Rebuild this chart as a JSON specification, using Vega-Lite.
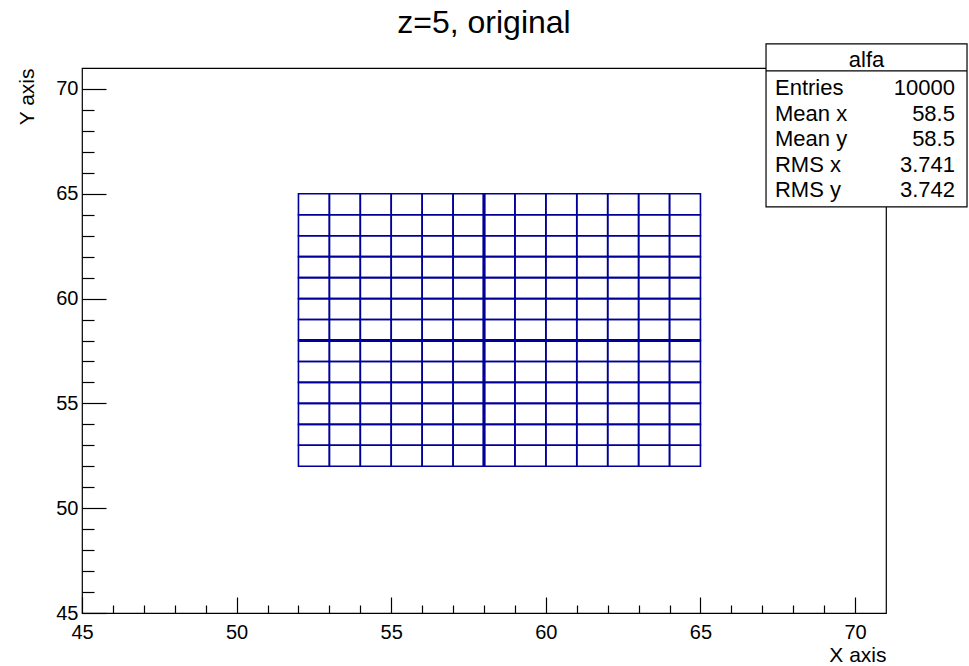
{
  "$schema": "https://vega.github.io/schema/vega-lite/v6.json",
  "autosize": {"type": "none"},
  "padding": {"left": 82, "top": 68, "right": 83, "bottom": 53},
  "width": 804,
  "height": 545,
  "background": "white",
  "title": {"text": "z=5, original", "font": "Liberation Sans", "fontSize": 32, "fontWeight": "normal", "color": "black", "anchor": "middle", "offset": 3},
  "config": {
    "view": {"stroke": "black", "strokeWidth": 1.2},
    "axis": {"domain": false, "grid": false, "labelFlush": false, "labelFont": "Liberation Sans", "labelFontSize": 20, "labelColor": "black", "tickColor": "black", "tickWidth": 1.2, "titleFont": "Liberation Sans", "titleFontSize": 21, "titleFontWeight": "normal", "titleColor": "black"}
  },
  "datasets": {
    "cells": [
      {"xl":52,"xh":53,"yl":52,"yh":53},{"xl":53,"xh":54,"yl":52,"yh":53},{"xl":54,"xh":55,"yl":52,"yh":53},{"xl":55,"xh":56,"yl":52,"yh":53},{"xl":56,"xh":57,"yl":52,"yh":53},{"xl":57,"xh":58,"yl":52,"yh":53},{"xl":58,"xh":59,"yl":52,"yh":53},{"xl":59,"xh":60,"yl":52,"yh":53},{"xl":60,"xh":61,"yl":52,"yh":53},{"xl":61,"xh":62,"yl":52,"yh":53},{"xl":62,"xh":63,"yl":52,"yh":53},{"xl":63,"xh":64,"yl":52,"yh":53},{"xl":64,"xh":65,"yl":52,"yh":53},
      {"xl":52,"xh":53,"yl":53,"yh":54},{"xl":53,"xh":54,"yl":53,"yh":54},{"xl":54,"xh":55,"yl":53,"yh":54},{"xl":55,"xh":56,"yl":53,"yh":54},{"xl":56,"xh":57,"yl":53,"yh":54},{"xl":57,"xh":58,"yl":53,"yh":54},{"xl":58,"xh":59,"yl":53,"yh":54},{"xl":59,"xh":60,"yl":53,"yh":54},{"xl":60,"xh":61,"yl":53,"yh":54},{"xl":61,"xh":62,"yl":53,"yh":54},{"xl":62,"xh":63,"yl":53,"yh":54},{"xl":63,"xh":64,"yl":53,"yh":54},{"xl":64,"xh":65,"yl":53,"yh":54},
      {"xl":52,"xh":53,"yl":54,"yh":55},{"xl":53,"xh":54,"yl":54,"yh":55},{"xl":54,"xh":55,"yl":54,"yh":55},{"xl":55,"xh":56,"yl":54,"yh":55},{"xl":56,"xh":57,"yl":54,"yh":55},{"xl":57,"xh":58,"yl":54,"yh":55},{"xl":58,"xh":59,"yl":54,"yh":55},{"xl":59,"xh":60,"yl":54,"yh":55},{"xl":60,"xh":61,"yl":54,"yh":55},{"xl":61,"xh":62,"yl":54,"yh":55},{"xl":62,"xh":63,"yl":54,"yh":55},{"xl":63,"xh":64,"yl":54,"yh":55},{"xl":64,"xh":65,"yl":54,"yh":55},
      {"xl":52,"xh":53,"yl":55,"yh":56},{"xl":53,"xh":54,"yl":55,"yh":56},{"xl":54,"xh":55,"yl":55,"yh":56},{"xl":55,"xh":56,"yl":55,"yh":56},{"xl":56,"xh":57,"yl":55,"yh":56},{"xl":57,"xh":58,"yl":55,"yh":56},{"xl":58,"xh":59,"yl":55,"yh":56},{"xl":59,"xh":60,"yl":55,"yh":56},{"xl":60,"xh":61,"yl":55,"yh":56},{"xl":61,"xh":62,"yl":55,"yh":56},{"xl":62,"xh":63,"yl":55,"yh":56},{"xl":63,"xh":64,"yl":55,"yh":56},{"xl":64,"xh":65,"yl":55,"yh":56},
      {"xl":52,"xh":53,"yl":56,"yh":57},{"xl":53,"xh":54,"yl":56,"yh":57},{"xl":54,"xh":55,"yl":56,"yh":57},{"xl":55,"xh":56,"yl":56,"yh":57},{"xl":56,"xh":57,"yl":56,"yh":57},{"xl":57,"xh":58,"yl":56,"yh":57},{"xl":58,"xh":59,"yl":56,"yh":57},{"xl":59,"xh":60,"yl":56,"yh":57},{"xl":60,"xh":61,"yl":56,"yh":57},{"xl":61,"xh":62,"yl":56,"yh":57},{"xl":62,"xh":63,"yl":56,"yh":57},{"xl":63,"xh":64,"yl":56,"yh":57},{"xl":64,"xh":65,"yl":56,"yh":57},
      {"xl":52,"xh":53,"yl":57,"yh":58},{"xl":53,"xh":54,"yl":57,"yh":58},{"xl":54,"xh":55,"yl":57,"yh":58},{"xl":55,"xh":56,"yl":57,"yh":58},{"xl":56,"xh":57,"yl":57,"yh":58},{"xl":57,"xh":58,"yl":57,"yh":58},{"xl":58,"xh":59,"yl":57,"yh":58},{"xl":59,"xh":60,"yl":57,"yh":58},{"xl":60,"xh":61,"yl":57,"yh":58},{"xl":61,"xh":62,"yl":57,"yh":58},{"xl":62,"xh":63,"yl":57,"yh":58},{"xl":63,"xh":64,"yl":57,"yh":58},{"xl":64,"xh":65,"yl":57,"yh":58},
      {"xl":52,"xh":53,"yl":58,"yh":59},{"xl":53,"xh":54,"yl":58,"yh":59},{"xl":54,"xh":55,"yl":58,"yh":59},{"xl":55,"xh":56,"yl":58,"yh":59},{"xl":56,"xh":57,"yl":58,"yh":59},{"xl":57,"xh":58,"yl":58,"yh":59},{"xl":58,"xh":59,"yl":58,"yh":59},{"xl":59,"xh":60,"yl":58,"yh":59},{"xl":60,"xh":61,"yl":58,"yh":59},{"xl":61,"xh":62,"yl":58,"yh":59},{"xl":62,"xh":63,"yl":58,"yh":59},{"xl":63,"xh":64,"yl":58,"yh":59},{"xl":64,"xh":65,"yl":58,"yh":59},
      {"xl":52,"xh":53,"yl":59,"yh":60},{"xl":53,"xh":54,"yl":59,"yh":60},{"xl":54,"xh":55,"yl":59,"yh":60},{"xl":55,"xh":56,"yl":59,"yh":60},{"xl":56,"xh":57,"yl":59,"yh":60},{"xl":57,"xh":58,"yl":59,"yh":60},{"xl":58,"xh":59,"yl":59,"yh":60},{"xl":59,"xh":60,"yl":59,"yh":60},{"xl":60,"xh":61,"yl":59,"yh":60},{"xl":61,"xh":62,"yl":59,"yh":60},{"xl":62,"xh":63,"yl":59,"yh":60},{"xl":63,"xh":64,"yl":59,"yh":60},{"xl":64,"xh":65,"yl":59,"yh":60},
      {"xl":52,"xh":53,"yl":60,"yh":61},{"xl":53,"xh":54,"yl":60,"yh":61},{"xl":54,"xh":55,"yl":60,"yh":61},{"xl":55,"xh":56,"yl":60,"yh":61},{"xl":56,"xh":57,"yl":60,"yh":61},{"xl":57,"xh":58,"yl":60,"yh":61},{"xl":58,"xh":59,"yl":60,"yh":61},{"xl":59,"xh":60,"yl":60,"yh":61},{"xl":60,"xh":61,"yl":60,"yh":61},{"xl":61,"xh":62,"yl":60,"yh":61},{"xl":62,"xh":63,"yl":60,"yh":61},{"xl":63,"xh":64,"yl":60,"yh":61},{"xl":64,"xh":65,"yl":60,"yh":61},
      {"xl":52,"xh":53,"yl":61,"yh":62},{"xl":53,"xh":54,"yl":61,"yh":62},{"xl":54,"xh":55,"yl":61,"yh":62},{"xl":55,"xh":56,"yl":61,"yh":62},{"xl":56,"xh":57,"yl":61,"yh":62},{"xl":57,"xh":58,"yl":61,"yh":62},{"xl":58,"xh":59,"yl":61,"yh":62},{"xl":59,"xh":60,"yl":61,"yh":62},{"xl":60,"xh":61,"yl":61,"yh":62},{"xl":61,"xh":62,"yl":61,"yh":62},{"xl":62,"xh":63,"yl":61,"yh":62},{"xl":63,"xh":64,"yl":61,"yh":62},{"xl":64,"xh":65,"yl":61,"yh":62},
      {"xl":52,"xh":53,"yl":62,"yh":63},{"xl":53,"xh":54,"yl":62,"yh":63},{"xl":54,"xh":55,"yl":62,"yh":63},{"xl":55,"xh":56,"yl":62,"yh":63},{"xl":56,"xh":57,"yl":62,"yh":63},{"xl":57,"xh":58,"yl":62,"yh":63},{"xl":58,"xh":59,"yl":62,"yh":63},{"xl":59,"xh":60,"yl":62,"yh":63},{"xl":60,"xh":61,"yl":62,"yh":63},{"xl":61,"xh":62,"yl":62,"yh":63},{"xl":62,"xh":63,"yl":62,"yh":63},{"xl":63,"xh":64,"yl":62,"yh":63},{"xl":64,"xh":65,"yl":62,"yh":63},
      {"xl":52,"xh":53,"yl":63,"yh":64},{"xl":53,"xh":54,"yl":63,"yh":64},{"xl":54,"xh":55,"yl":63,"yh":64},{"xl":55,"xh":56,"yl":63,"yh":64},{"xl":56,"xh":57,"yl":63,"yh":64},{"xl":57,"xh":58,"yl":63,"yh":64},{"xl":58,"xh":59,"yl":63,"yh":64},{"xl":59,"xh":60,"yl":63,"yh":64},{"xl":60,"xh":61,"yl":63,"yh":64},{"xl":61,"xh":62,"yl":63,"yh":64},{"xl":62,"xh":63,"yl":63,"yh":64},{"xl":63,"xh":64,"yl":63,"yh":64},{"xl":64,"xh":65,"yl":63,"yh":64},
      {"xl":52,"xh":53,"yl":64,"yh":65},{"xl":53,"xh":54,"yl":64,"yh":65},{"xl":54,"xh":55,"yl":64,"yh":65},{"xl":55,"xh":56,"yl":64,"yh":65},{"xl":56,"xh":57,"yl":64,"yh":65},{"xl":57,"xh":58,"yl":64,"yh":65},{"xl":58,"xh":59,"yl":64,"yh":65},{"xl":59,"xh":60,"yl":64,"yh":65},{"xl":60,"xh":61,"yl":64,"yh":65},{"xl":61,"xh":62,"yl":64,"yh":65},{"xl":62,"xh":63,"yl":64,"yh":65},{"xl":63,"xh":64,"yl":64,"yh":65},{"xl":64,"xh":65,"yl":64,"yh":65}
    ],
    "centre": [
      {"xl":58,"xh":58,"yl":52,"yh":65},
      {"xl":52,"xh":65,"yl":58,"yh":58}
    ],
    "stats": [
      {"name": "alfa", "labels": ["Entries", "Mean x", "Mean y", "RMS x", "RMS y"], "values": ["10000", "58.5", "58.5", "3.741", "3.742"]}
    ]
  },
  "resolve": {"axis": {"x": "independent", "y": "independent"}},
  "layer": [
    {
      "data": {"name": "cells"},
      "mark": {"type": "rect", "fill": null, "fillOpacity": 0, "stroke": "#000099", "strokeWidth": 1.6},
      "encoding": {
        "x": {"field": "xl", "type": "quantitative", "scale": {"domain": [45, 71], "nice": false, "zero": false},
              "axis": {"orient": "bottom", "values": [45, 50, 55, 60, 65, 70], "tickSize": -16, "labelPadding": 25, "title": "X axis", "titleAnchor": "end", "titlePadding": 2}},
        "x2": {"field": "xh"},
        "y": {"field": "yl", "type": "quantitative", "scale": {"domain": [45, 71], "nice": false, "zero": false},
              "axis": {"orient": "left", "values": [45, 50, 55, 60, 65, 70], "tickSize": -24, "labelPadding": 28, "title": "Y axis", "titleAnchor": "end", "titlePadding": 18}},
        "y2": {"field": "yh"}
      }
    },
    {
      "data": {"name": "centre"},
      "mark": {"type": "rule", "stroke": "#000099", "strokeWidth": 3.2},
      "encoding": {
        "x": {"field": "xl", "type": "quantitative",
              "axis": {"orient": "bottom", "values": [46, 47, 48, 49, 51, 52, 53, 54, 56, 57, 58, 59, 61, 62, 63, 64, 66, 67, 68, 69], "tickSize": -8, "labels": false, "title": null}},
        "x2": {"field": "xh"},
        "y": {"field": "yl", "type": "quantitative",
              "axis": {"orient": "left", "values": [46, 47, 48, 49, 51, 52, 53, 54, 56, 57, 58, 59, 61, 62, 63, 64, 66, 67, 68, 69], "tickSize": -12, "labels": false, "title": null}},
        "y2": {"field": "yh"}
      }
    },
    {
      "data": {"name": "stats"},
      "mark": {"type": "rect", "fill": "white", "stroke": "black", "strokeWidth": 1.2},
      "encoding": {
        "x": {"datum": 67.12, "type": "quantitative", "axis": null},
        "x2": {"datum": 73.62},
        "y": {"datum": 72.15, "type": "quantitative", "axis": null},
        "y2": {"datum": 64.37}
      }
    },
    {
      "data": {"name": "stats"},
      "mark": {"type": "rule", "stroke": "black", "strokeWidth": 1.2},
      "encoding": {
        "x": {"datum": 67.12, "type": "quantitative", "axis": null},
        "x2": {"datum": 73.62},
        "y": {"datum": 70.86, "type": "quantitative", "axis": null}
      }
    },
    {
      "data": {"name": "stats"},
      "mark": {"type": "text", "font": "Liberation Sans", "fontSize": 22, "color": "black", "align": "center", "baseline": "middle"},
      "encoding": {
        "x": {"datum": 70.37, "type": "quantitative", "axis": null},
        "y": {"datum": 71.38, "type": "quantitative", "axis": null},
        "text": {"field": "name"}
      }
    },
    {
      "data": {"name": "stats"},
      "mark": {"type": "text", "font": "Liberation Sans", "fontSize": 22, "color": "black", "align": "left", "baseline": "alphabetic", "lineHeight": 25.5},
      "encoding": {
        "x": {"datum": 67.41, "type": "quantitative", "axis": null},
        "y": {"datum": 69.71, "type": "quantitative", "axis": null},
        "text": {"field": "labels"}
      }
    },
    {
      "data": {"name": "stats"},
      "mark": {"type": "text", "font": "Liberation Sans", "fontSize": 22, "color": "black", "align": "right", "baseline": "alphabetic", "lineHeight": 25.5},
      "encoding": {
        "x": {"datum": 73.23, "type": "quantitative", "axis": null},
        "y": {"datum": 69.71, "type": "quantitative", "axis": null},
        "text": {"field": "values"}
      }
    }
  ]
}
